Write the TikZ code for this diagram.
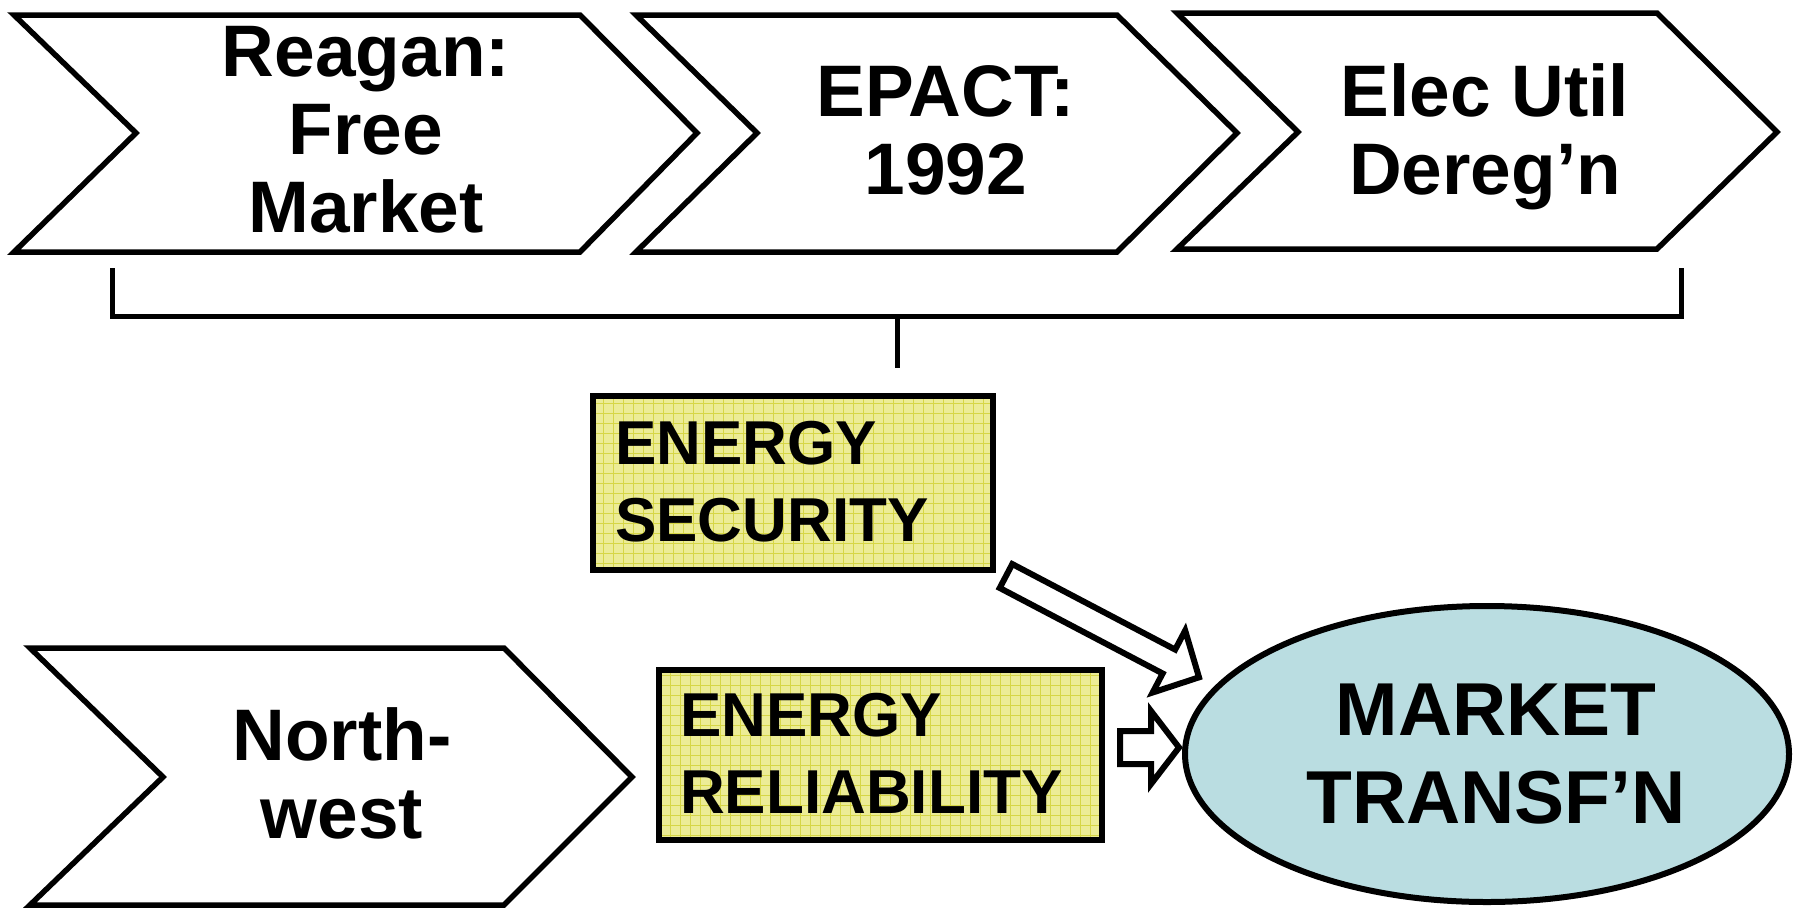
\documentclass[tikz,border=0pt]{standalone}
\usepackage{fontspec}
\setmainfont{Liberation Sans}
\usetikzlibrary{shapes.geometric}
\definecolor{boxfill}{RGB}{236,236,150}
\definecolor{boxgrid}{RGB}{214,214,70}
\definecolor{ellfill}{RGB}{186,221,225}
\begin{document}
\begin{tikzpicture}[x=1pt,y=1pt,
  chev/.style={draw, line width=5.5, line join=miter, fill=white},
  chevtext/.style={font=\bfseries\fontsize{73}{78}\selectfont, align=center, inner sep=0, anchor=north},
  ybox/.style={draw, line width=6, fill=boxfill, inner sep=0,
    path picture={\draw[boxgrid, line width=0.9] (path picture bounding box.south west) grid[step=10pt] (path picture bounding box.north east);}},
  boxtext/.style={font=\bfseries\fontsize{62}{77}\selectfont, align=left, inner sep=0, anchor=north west},
  ell/.style={draw, ellipse, line width=6, fill=ellfill, minimum width=604, minimum height=296, inner sep=0,
    font=\bfseries\fontsize{75}{88}\selectfont, align=center},
  bracketline/.style={draw, line width=5},
  blockarrow/.style={draw, line width=6, line join=miter, fill=white}
]
\useasboundingbox (0,0) rectangle (1803,-913);

% chevrons
\draw[chev] (14,-15) -- (580,-15) -- (697,-133) -- (580,-252) -- (14,-252) -- (136,-133) -- cycle;
\draw[chev] (636,-15) -- (1117,-15) -- (1237,-133) -- (1117,-252) -- (636,-252) -- (757,-133) -- cycle;
\draw[chev] (1177,-13) -- (1657,-13) -- (1777,-132) -- (1657,-249) -- (1177,-249) -- (1298,-132) -- cycle;
\draw[chev] (30,-648) -- (504,-648) -- (632,-777) -- (504,-905) -- (30,-905) -- (163,-777) -- cycle;

\node[chevtext] (reagan) at (366,-26) {Reagan:\\Free\\Market};
\node[chevtext] (epact) at (946,-65) {EPACT:\\1992};
\node[chevtext] (elec) at (1485,-63) {Elec Util\\Dereg’n};
\node[chevtext] (nw) at (342,-707) {North-\\west};

% bracket
\coordinate (bl) at (112,-268);
\coordinate (br) at (1681,-268);
\coordinate (bm) at (897,-316);
\coordinate (bs) at (897,-368);
\draw[bracketline] (bl) -- (112,-316) -- (1681,-316) -- (br);
\draw[bracketline] (bm) -- (bs);

% yellow boxes
\node[ybox, minimum width=400, minimum height=174] (secbox) at (793,-483) {};
\node[boxtext] (sectext) at (615,-421) {ENERGY\\SECURITY};
\node[ybox, minimum width=443, minimum height=170] (relbox) at (880.5,-755) {};
\node[boxtext] (reltext) at (680,-693) {ENERGY\\RELIABILITY};

% ellipse
\node[ell] (mt) at (1487,-754) {\hspace*{18pt}MARKET\\\hspace*{18pt}TRANSF’N};

% block arrows
\coordinate (secarrow) at (1006,-576);
\begin{scope}[shift={(secarrow)}, rotate=-27.7]
\draw[blockarrow] (0,-13.5) -- (184,-13.5) -- (184,-35) -- (218,0) -- (184,35) -- (184,13.5) -- (0,13.5) -- cycle;
\end{scope}
\coordinate (relarrow) at (1120,-747.5);
\begin{scope}[shift={(relarrow)}]
\draw[blockarrow] (0,-16.5) -- (31,-16.5) -- (31,-36.5) -- (59,0) -- (31,36.5) -- (31,16.5) -- (0,16.5) -- cycle;
\end{scope}
\end{tikzpicture}
\end{document}
